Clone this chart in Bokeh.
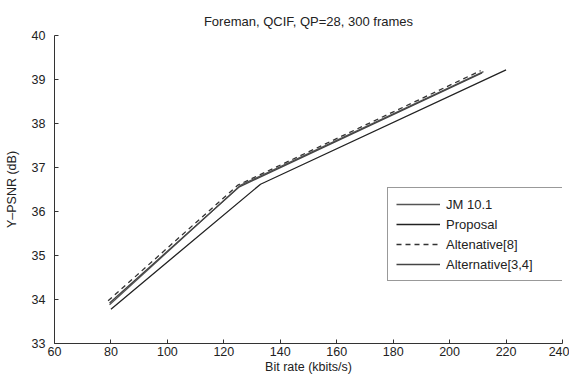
from bokeh.plotting import figure
from bokeh.models import Legend, LegendItem, Range1d, FixedTicker, Title
from bokeh.embed import file_html
from bokeh.resources import INLINE

# Data
jm_x = [79.5, 126, 212]
jm_y = [33.88, 36.6, 39.18]
prop_x = [80, 133, 220]
prop_y = [33.78, 36.62, 39.22]
alt8_x = [79, 125, 211]
alt8_y = [33.97, 36.6, 39.2]
alt34_x = [79.5, 125.5, 211.5]
alt34_y = [33.92, 36.56, 39.15]

x_ticks = [60, 80, 100, 120, 140, 160, 180, 200, 220, 240]
y_ticks = [33, 34, 35, 36, 37, 38, 39, 40]

title_text = "Foreman, QCIF, QP=28, 300 frames"

FONT = "Liberation Sans"

p = figure(width=569, height=376, output_backend="svg", toolbar_location=None,
           x_range=Range1d(60, 240), y_range=Range1d(33, 40),
           min_border_left=54, min_border_right=7, min_border_top=35, min_border_bottom=32)
p.title = Title(text=title_text, align="center", vertical_align="top",
                text_font=FONT, text_font_size="13px", text_font_style="normal",
                text_color="#222222", offset=0, standoff=10)
p.outline_line_color = None
p.grid.visible = False
p.background_fill_color = "white"
p.border_fill_color = "white"

for ax in (p.xaxis[0], p.yaxis[0]):
    ax.major_tick_in = 4
    ax.major_tick_out = 0
    ax.minor_tick_line_color = None
    ax.axis_line_color = "#333333"
    ax.major_tick_line_color = "#333333"
    ax.major_label_text_font = FONT
    ax.major_label_text_font_size = "12.5px"
    ax.major_label_text_color = "#222222"
    ax.axis_label_text_font = FONT
    ax.axis_label_text_font_size = "12.5px"
    ax.axis_label_text_font_style = "normal"
    ax.axis_label_text_color = "#222222"

p.xaxis.ticker = FixedTicker(ticks=x_ticks)
p.yaxis.ticker = FixedTicker(ticks=y_ticks)
p.xaxis.axis_label = "Bit rate (kbits/s)"
p.yaxis.axis_label = "Y\u2013PSNR (dB)"
p.xaxis.major_label_standoff = 3
p.xaxis.axis_label_standoff = 1
p.yaxis.major_label_standoff = 9
p.yaxis.axis_label_standoff = 10

r_jm = p.line(jm_x, jm_y, line_color="#555555", line_width=1.3)
r_prop = p.line(prop_x, prop_y, line_color="#222222", line_width=1.3)
r_alt8 = p.line(alt8_x, alt8_y, line_color="#333333", line_width=1.3, line_dash="5 4")
r_alt34 = p.line(alt34_x, alt34_y, line_color="#444444", line_width=1.3)

legend = Legend(items=[
    LegendItem(label="JM 10.1", renderers=[r_jm]),
    LegendItem(label="Proposal", renderers=[r_prop]),
    LegendItem(label="Altenative[8]", renderers=[r_alt8]),
    LegendItem(label="Alternative[3,4]", renderers=[r_alt34]),
], location=(333, 62))
legend.border_line_color = "#333333"
legend.border_line_width = 1
legend.background_fill_color = "white"
legend.background_fill_alpha = 1
legend.label_text_font = FONT
legend.label_text_font_size = "13px"
legend.label_text_color = "#222222"
legend.glyph_width = 44
legend.glyph_height = 16
legend.label_height = 16
legend.label_width = 116
legend.label_standoff = 6
legend.padding = 8
legend.spacing = 4
legend.margin = 0
p.add_layout(legend, "center")

open("out.html", "w").write(file_html(p, INLINE))
